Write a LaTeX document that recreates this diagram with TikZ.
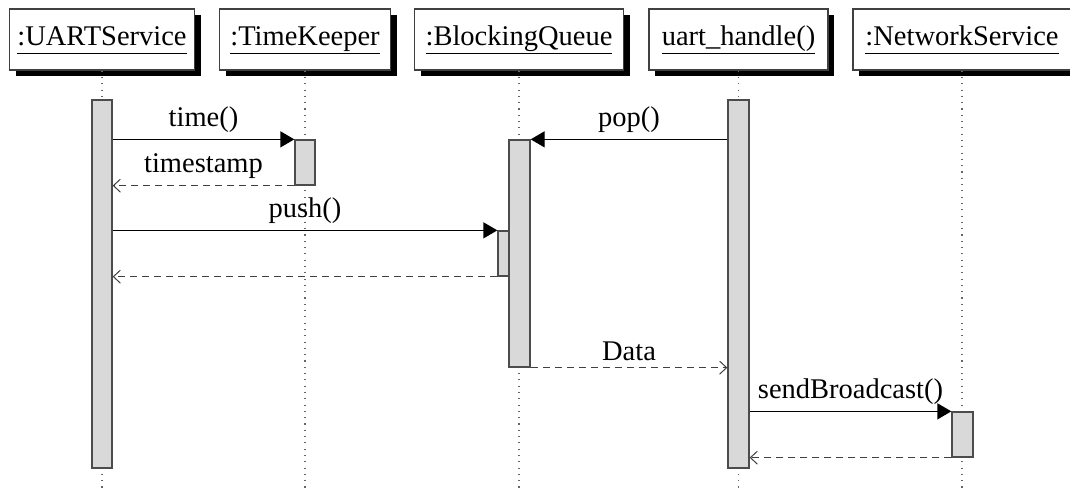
\documentclass[tikz,border=0pt]{standalone}
\usepackage{fontspec}
\setmainfont{Liberation Serif}
\usetikzlibrary{arrows.meta,shadows}
\newcommand{\hdr}[1]{\underline{\vphantom{y()}#1}}
\begin{document}
\begin{tikzpicture}[x=1pt,y=-1pt,
  font=\fontsize{28.5}{34}\selectfont,
  header/.style={draw=black!75, line width=1.3pt, fill=white, minimum height=61pt, inner xsep=2pt,
    drop shadow={shadow xshift=6pt, shadow yshift=-6pt, opacity=1, fill=black}},
  act/.style={draw=black!70, fill=black!15, line width=1.3pt, minimum width=20pt, inner sep=0pt},
  call/.style={line width=1.3pt, -{Triangle[length=14pt,width=16pt]}},
  ret/.style={line width=1.2pt, black!75, dash pattern=on 7pt off 5pt,
    -{Straight Barb[length=7pt,width=13pt,line width=1pt]}},
  lifeline/.style={line width=1.1pt, black!60, dash pattern=on 1.1pt off 5.2pt},
  lbl/.style={midway, above=3pt, inner sep=3pt, text=black}]
\useasboundingbox (0,0) rectangle (1070,498);
\clip (0,0) rectangle (1070,498);
% headers
\node[header, minimum width=185pt] (uah) at (102,39.5) {\hdr{:UARTService}};
\node[header, minimum width=171pt] (tkh) at (305,39.5) {\hdr{:TimeKeeper}};
\node[header, minimum width=209pt] (bqh) at (519,39.5) {\hdr{:BlockingQueue}};
\node[header, minimum width=179pt] (uhh) at (738.5,39.5) {\hdr{uart\_handle()}};
\node[header, minimum width=218pt] (nsh) at (962,39.5) {\hdr{:NetworkService}};
% lifelines
\coordinate (bottom) at (0,492);
\foreach \h in {uah,tkh,bqh,uhh,nsh}
  \draw[lifeline] (\h.south) -- (\h.south |- bottom);
% activations
\node[act, minimum height=368pt] (ua) at (102,284) {};
\node[act, minimum height=45pt] (tk) at (305,162.5) {};
\node[act, minimum width=21pt, minimum height=227pt] (bq) at (519.5,253.5) {};
\node[act, minimum width=11pt, minimum height=45pt] (bqi) at (503.5,253.5) {};
\node[act, minimum width=21pt, minimum height=368pt] (uh) at (738.5,284) {};
\node[act, minimum width=21pt, minimum height=45pt] (ns) at (962.5,434.5) {};
% messages
\draw[call] (ua.east |- tk.north west) -- node[lbl]{time()} (tk.north west);
\draw[ret] (tk.south west) -- node[lbl]{timestamp} (ua.east |- tk.south west);
\draw[call] (ua.east |- bqi.north west) -- node[lbl]{push()} (bqi.north west);
\draw[ret] (bqi.south west) -- (ua.east |- bqi.south west);
\draw[call] (uh.west |- bq.north east) -- node[lbl]{pop()} (bq.north east);
\draw[ret] (bq.south east) -- node[lbl]{Data} (uh.west |- bq.south east);
\draw[call] (uh.east |- ns.north west) -- node[lbl]{sendBroadcast()} (ns.north west);
\draw[ret] (ns.south west) -- (uh.east |- ns.south west);
\end{tikzpicture}
\end{document}
